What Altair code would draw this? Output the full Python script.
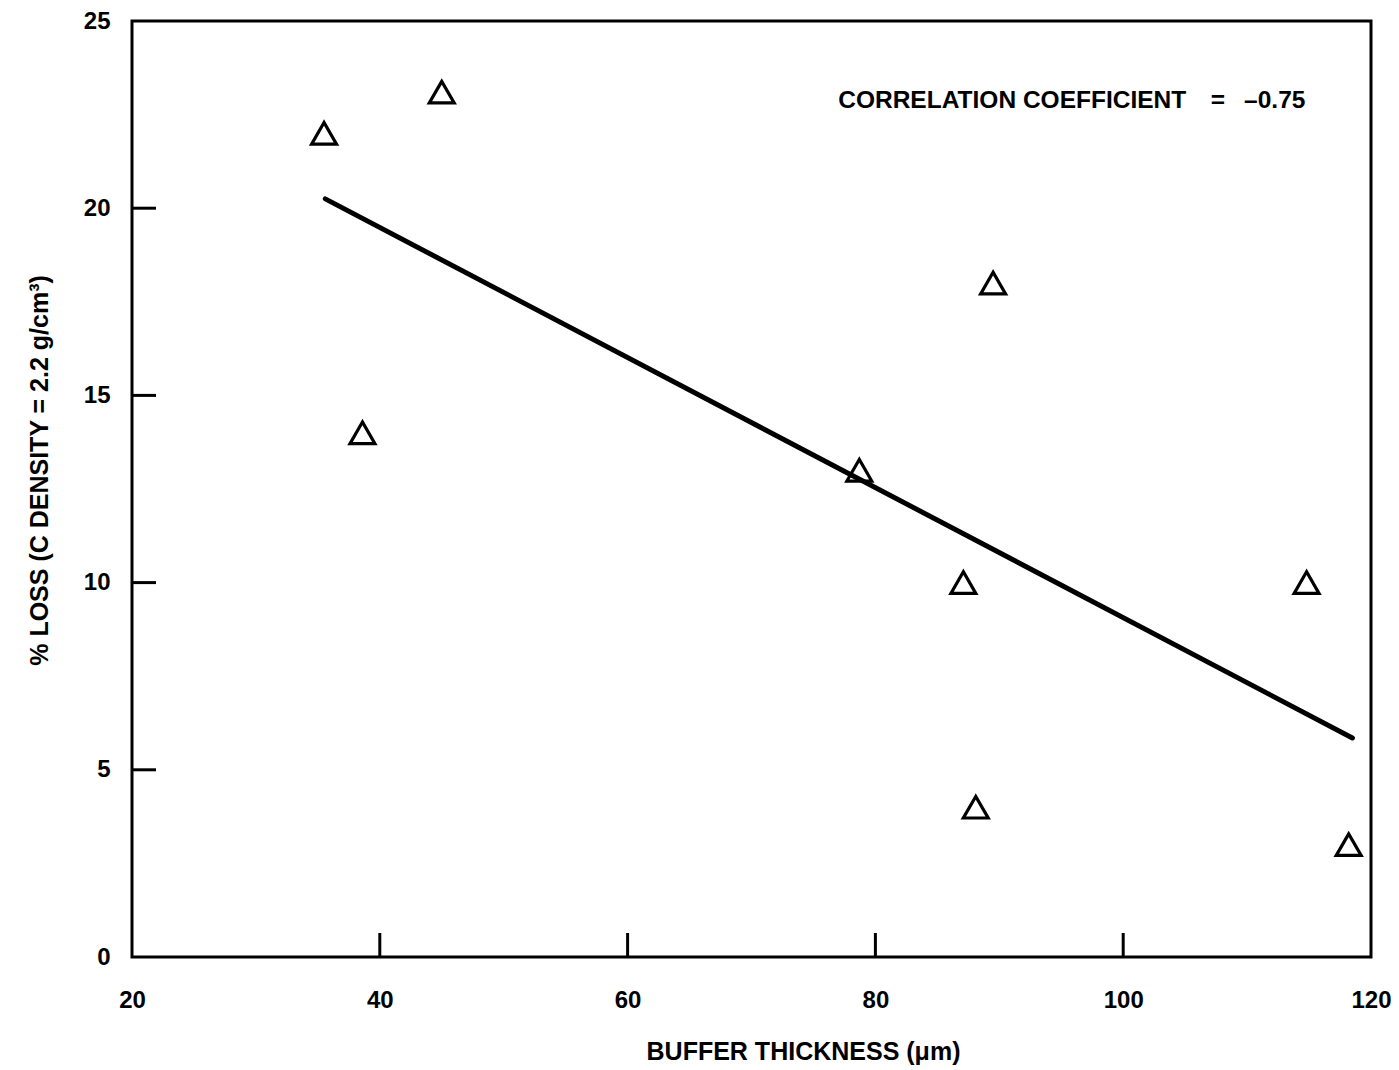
import altair as alt
import pandas as pd

# measured data (buffer thickness in um, % loss)
pt_x = [35.5, 45.0, 38.6, 78.7, 87.1, 89.5, 88.1, 114.8, 118.2]
pt_y = [22.0, 23.1, 14.0, 13.0, 10.0, 18.0, 4.0, 10.0, 3.0]

# regression line endpoints
fit_x = [35.6, 118.5]
fit_y = [20.25, 5.85]

x_ticks = [40, 60, 80, 100]
y_ticks = [5, 10, 15, 20]

ann_x = [77.0]
ann_y = [22.68]
ann_text = ["CORRELATION COEFFICIENT\u2002\u2002=\u2002\u00a0\u20130.75"]

W, H = 1239, 936

pts = pd.DataFrame({"x": pt_x, "y": pt_y})
fit = pd.DataFrame({"x": fit_x, "y": fit_y})
xt = pd.DataFrame({"t": x_ticks})
yt = pd.DataFrame({"t": y_ticks})
ann = pd.DataFrame({"x": ann_x, "y": ann_y, "label": ann_text})

xscale = alt.Scale(domain=[20, 120], nice=False, zero=False)
yscale = alt.Scale(domain=[0, 25], nice=False, zero=False)

FONT = "Liberation Sans"

xaxis = alt.Axis(
    values=[20, 40, 60, 80, 100, 120], ticks=False, domain=False, grid=False,
    labelFont=FONT, labelFontWeight="bold", labelFontSize=24,
    labelColor="black", labelPadding=31, labelFlush=False,
    title="BUFFER THICKNESS (\u03bcm)", titleFont=FONT, titleFontWeight="bold",
    titleFontSize=25, titleColor="black", titleX=671, titleY=102,
    titleAlign="center", titleBaseline="alphabetic", titleAnchor="start",
)
yaxis = alt.Axis(
    values=[0, 5, 10, 15, 20, 25], ticks=False, domain=False, grid=False,
    labelFont=FONT, labelFontWeight="bold", labelFontSize=24,
    labelColor="black", labelPadding=22, labelFlush=False,
    title="% LOSS (C DENSITY = 2.2 g/cm\u00b3)", titleFont=FONT,
    titleFontWeight="bold", titleFontSize=25, titleColor="black",
    titleAngle=270, titleX=-85, titleY=449, titleAlign="center",
    titleBaseline="alphabetic", titleAnchor="start",
)

points = alt.Chart(pts).mark_point(
    shape="triangle-up", filled=False, size=620, stroke="black", strokeWidth=3.2, opacity=1
).encode(
    x=alt.X("x:Q", scale=xscale, axis=xaxis),
    y=alt.Y("y:Q", scale=yscale, axis=yaxis),
)

line = alt.Chart(fit).mark_line(color="black", strokeWidth=5, strokeCap="round").encode(
    x=alt.X("x:Q", scale=xscale), y=alt.Y("y:Q", scale=yscale)
)

xtick = alt.Chart(xt).mark_rule(color="black", strokeWidth=3).encode(
    x=alt.X("t:Q", scale=xscale), y=alt.value(H), y2=alt.value(H - 24)
)
ytick = alt.Chart(yt).mark_rule(color="black", strokeWidth=3).encode(
    y=alt.Y("t:Q", scale=yscale), x=alt.value(0), x2=alt.value(24)
)

text = alt.Chart(ann).mark_text(
    align="left", baseline="alphabetic", font=FONT, fontWeight="bold",
    fontSize=24.5, color="black"
).encode(
    x=alt.X("x:Q", scale=xscale), y=alt.Y("y:Q", scale=yscale), text="label:N"
)

chart = alt.layer(xtick, ytick, line, points, text).properties(
    width=W, height=H,
    background="white",
    autosize=alt.AutoSizeParams(type="none"),
    padding={"left": 124, "top": 13, "right": 20, "bottom": 112},
).configure_view(stroke="black", strokeWidth=3)

chart.save("out.html", embed_options={"renderer": "svg", "actions": False})
